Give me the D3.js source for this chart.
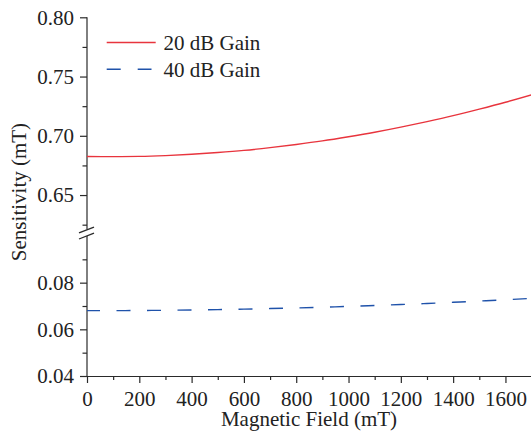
<!DOCTYPE html>
<html>
<head>
<meta charset="utf-8">
<script src="https://cdn.jsdelivr.net/npm/d3@7"></script>
<style>
  html, body { margin: 0; padding: 0; background: #fff; }
  svg { display: block; }
  text { font-family: "Liberation Serif", "Times New Roman", serif; fill: #222; }
</style>
</head>
<body>
<svg id="chart" width="531" height="431"></svg>
<script>
// Magnetic field (mT)
const field = [0, 100, 200, 300, 400, 500, 600, 700, 800, 900, 1000, 1100, 1200, 1300, 1400, 1500, 1600, 1700];
// Sensitivity (mT) for each amplifier gain
const gain20 = [0.6825, 0.6824, 0.6826, 0.6833, 0.6844, 0.6859, 0.6877, 0.6900, 0.6927, 0.6957,
                0.6992, 0.7030, 0.7073, 0.7120, 0.7170, 0.7225, 0.7283, 0.7346];
const gain40 = [0.0680, 0.06802, 0.06807, 0.06816, 0.06829, 0.06846, 0.06866, 0.06890, 0.06917, 0.06948,
                0.06983, 0.07021, 0.07064, 0.07109, 0.07159, 0.07212, 0.07268, 0.07329];
const seriesNames = ["20 dB Gain", "40 dB Gain"];

// Tick values
const xMajor = [0, 200, 400, 600, 800, 1000, 1200, 1400, 1600];
const xMinor = [100, 300, 500, 700, 900, 1100, 1300, 1500, 1700];
const upperMajor = [0.65, 0.70, 0.75, 0.80];
const upperMinor = [0.625, 0.675, 0.725, 0.775];
const lowerMajor = [0.04, 0.06, 0.08];
const lowerMinor = [0.05, 0.07, 0.09];

const svg = d3.select("#chart");
const fontSize = 21;
const axisColor = "#2a2a2a";
const red = "#e8343d";
const blue = "#1f52aa";

const x = d3.scaleLinear().domain([0, 1700]).range([87, 531.6]);
// Broken y axis: upper and lower segments
const yUp = d3.scaleLinear().domain([0.62, 0.80]).range([230.6, 17.3]);
const yLo = d3.scaleLinear().domain([0.04, 0.10]).range([376, 236]);

function styleAxis(g) {
  g.selectAll("path, line").attr("stroke", axisColor).attr("stroke-width", 1.2);
  g.selectAll("text").style("font-size", fontSize + "px").attr("fill", "#222");
}

// X axis
const gx = svg.append("g").attr("transform", "translate(0,376)");
gx.call(d3.axisBottom(x).tickValues(xMajor).tickFormat(d3.format("d"))
  .tickSize(7).tickPadding(7.6).tickSizeOuter(0));
gx.append("g").call(d3.axisBottom(x).tickValues(xMinor).tickFormat("").tickSize(4).tickSizeOuter(0))
  .select(".domain").remove();
styleAxis(gx);

// Upper y axis
const gyU = svg.append("g").attr("transform", "translate(87,0)");
gyU.call(d3.axisLeft(yUp).tickValues(upperMajor).tickFormat(d3.format(".2f"))
  .tickSize(7).tickPadding(6).tickSizeOuter(0));
gyU.append("g").call(d3.axisLeft(yUp).tickValues(upperMinor).tickFormat("").tickSize(4.5).tickSizeOuter(0))
  .select(".domain").remove();
gyU.select(".domain").attr("d", `M0,${yUp(0.80)}V${yUp(0.62) - 1}`);
styleAxis(gyU);

// Lower y axis
const gyL = svg.append("g").attr("transform", "translate(87,0)");
gyL.call(d3.axisLeft(yLo).tickValues(lowerMajor).tickFormat(d3.format(".2f"))
  .tickSize(7).tickPadding(6).tickSizeOuter(0));
gyL.append("g").call(d3.axisLeft(yLo).tickValues(lowerMinor).tickFormat("").tickSize(4.5).tickSizeOuter(0))
  .select(".domain").remove();
gyL.select(".domain").attr("d", `M0,${yLo(0.10)}V${yLo(0.04)}`);
styleAxis(gyL);

// Break marks on the y axis
const brk = svg.append("g").attr("stroke", axisColor).attr("stroke-width", 1.3);
brk.append("line").attr("x1", 79).attr("y1", 232.8).attr("x2", 94).attr("y2", 227.2);
brk.append("line").attr("x1", 79).attr("y1", 239.0).attr("x2", 94).attr("y2", 233.2);

// Series lines
const line20 = d3.line().x((d, i) => x(field[i])).y(d => yUp(d)).curve(d3.curveMonotoneX);
const line40 = d3.line().x((d, i) => x(field[i])).y(d => yLo(d)).curve(d3.curveMonotoneX);

svg.append("path").datum(gain20).attr("d", line20)
  .attr("fill", "none").attr("stroke", red).attr("stroke-width", 1.4);
svg.append("path").datum(gain40).attr("d", line40)
  .attr("fill", "none").attr("stroke", blue).attr("stroke-width", 1.4)
  .attr("stroke-dasharray", "14,16.5").attr("stroke-dashoffset", 1);

// Legend
const legend = svg.append("g");
legend.append("line").attr("x1", 106.7).attr("x2", 155.7).attr("y1", 42.5).attr("y2", 42.5)
  .attr("stroke", red).attr("stroke-width", 1.4);
legend.append("line").attr("x1", 106.7).attr("x2", 151.5).attr("y1", 69.3).attr("y2", 69.3)
  .attr("stroke", blue).attr("stroke-width", 1.4).attr("stroke-dasharray", "14,17");
legend.append("text").attr("x", 163.5).attr("y", 50).style("font-size", fontSize + "px").text(seriesNames[0]);
legend.append("text").attr("x", 163.5).attr("y", 77).style("font-size", fontSize + "px").text(seriesNames[1]);

// Axis titles
svg.append("text").attr("x", 309).attr("y", 426).attr("text-anchor", "middle")
  .style("font-size", fontSize + "px").text("Magnetic Field (mT)");
svg.append("text").attr("transform", "translate(26,192) rotate(-90)").attr("text-anchor", "middle")
  .style("font-size", fontSize + "px").text("Sensitivity (mT)");
</script>
</body>
</html>
